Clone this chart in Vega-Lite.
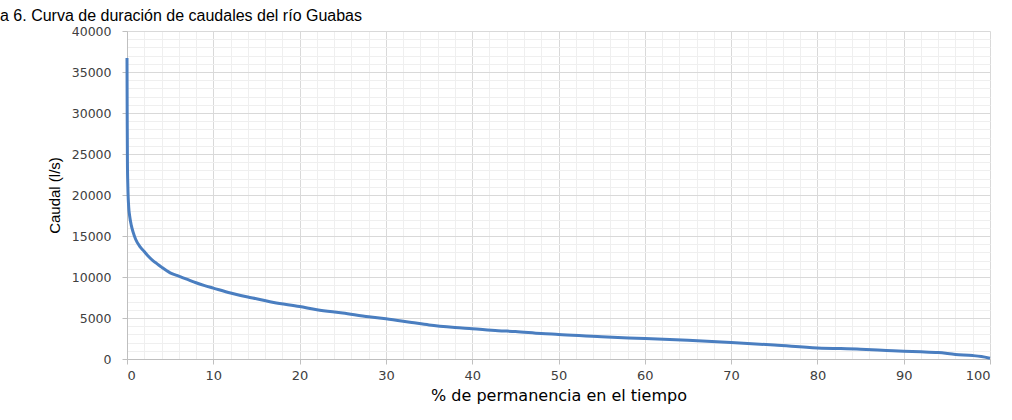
{
  "$schema": "https://vega.github.io/schema/vega-lite/v6.json",
  "autosize": "none",
  "width": 863,
  "height": 328,
  "padding": {"left": 127, "top": 31, "right": 22, "bottom": 61},
  "background": "white",
  "title": {
    "text": "a 6. Curva de duración de caudales del río Guabas",
    "anchor": "start",
    "frame": "group",
    "dx": -127,
    "baseline": "alphabetic",
    "offset": -12,
    "font": "Liberation Sans",
    "fontSize": 16,
    "fontWeight": "normal",
    "color": "#000000"
  },
  "config": {
    "view": {"stroke": null},
    "axis": {"labelColor": "#404040", "titleColor": "#000000", "titleFontWeight": "normal"}
  },
  "data": {
    "values": [
      {"p": 0, "q": 36700},
      {"p": 0.02, "q": 30000},
      {"p": 0.05, "q": 24000},
      {"p": 0.1, "q": 21000},
      {"p": 0.2, "q": 18500},
      {"p": 0.3, "q": 17500},
      {"p": 0.5, "q": 16300},
      {"p": 0.7, "q": 15500},
      {"p": 1, "q": 14600},
      {"p": 1.5, "q": 13700},
      {"p": 2, "q": 13100},
      {"p": 2.5, "q": 12500},
      {"p": 3, "q": 12000},
      {"p": 3.5, "q": 11600},
      {"p": 4, "q": 11200},
      {"p": 5, "q": 10500},
      {"p": 6, "q": 10100},
      {"p": 7, "q": 9700},
      {"p": 8, "q": 9300},
      {"p": 9, "q": 8950},
      {"p": 10, "q": 8650},
      {"p": 12, "q": 8050},
      {"p": 14, "q": 7550},
      {"p": 15, "q": 7350},
      {"p": 17, "q": 6900},
      {"p": 20, "q": 6400},
      {"p": 22, "q": 6000},
      {"p": 25, "q": 5600},
      {"p": 28, "q": 5150},
      {"p": 30, "q": 4900},
      {"p": 33, "q": 4450},
      {"p": 35, "q": 4150},
      {"p": 38, "q": 3850},
      {"p": 40, "q": 3700},
      {"p": 43, "q": 3450},
      {"p": 45, "q": 3350},
      {"p": 48, "q": 3100},
      {"p": 50, "q": 3000},
      {"p": 55, "q": 2700},
      {"p": 60, "q": 2500},
      {"p": 65, "q": 2280},
      {"p": 70, "q": 2000},
      {"p": 75, "q": 1700},
      {"p": 80, "q": 1350},
      {"p": 85, "q": 1200},
      {"p": 88, "q": 1050},
      {"p": 90, "q": 950},
      {"p": 92, "q": 880},
      {"p": 94, "q": 780},
      {"p": 96, "q": 560},
      {"p": 98, "q": 420},
      {"p": 99, "q": 300},
      {"p": 100, "q": 100}
    ]
  },
  "layer": [
    {
      "mark": {"type": "line", "opacity": 0},
      "encoding": {
        "x": {
          "field": "p", "type": "quantitative",
          "scale": {"domain": [0, 100], "nice": false},
          "axis": {
            "orient": "bottom",
            "values": [2,4,6,8,12,14,16,18,22,24,26,28,32,34,36,38,42,44,46,48,52,54,56,58,62,64,66,68,72,74,76,78,82,84,86,88,92,94,96,98],
            "grid": true, "gridColor": "#efefef", "gridWidth": 1,
            "labels": false, "ticks": false, "domain": false, "title": null
          }
        },
        "y": {
          "field": "q", "type": "quantitative",
          "scale": {"domain": [0, 40000], "nice": false},
          "axis": {
            "orient": "left",
            "values": [1000,2000,3000,4000,6000,7000,8000,9000,11000,12000,13000,14000,16000,17000,18000,19000,21000,22000,23000,24000,26000,27000,28000,29000,31000,32000,33000,34000,36000,37000,38000,39000],
            "grid": true, "gridColor": "#efefef", "gridWidth": 1,
            "labels": false, "ticks": false, "domain": false, "title": null
          }
        }
      }
    },
    {
      "mark": {"type": "line", "color": "#4a7ec0", "strokeWidth": 3, "interpolate": "monotone"},
      "encoding": {
        "x": {
          "field": "p", "type": "quantitative",
          "scale": {"domain": [0, 100], "nice": false},
          "axis": {
            "orient": "bottom",
            "values": [0,10,20,30,40,50,60,70,80,90,100],
            "format": "d",
            "grid": true, "gridColor": "#d9d9d9",
            "domain": true, "domainColor": "#bfbfbf",
            "ticks": true, "tickColor": "#bfbfbf", "tickSize": 5,
            "labelFont": "DejaVu Sans",
            "labelFontSize": 13, "labelPadding": 5,
            "title": "% de permanencia en el tiempo",
            "titleFont": "DejaVu Sans",
            "titleFontSize": 16, "titlePadding": 5
          }
        },
        "y": {
          "field": "q", "type": "quantitative",
          "scale": {"domain": [0, 40000], "nice": false},
          "axis": {
            "orient": "left",
            "values": [0,5000,10000,15000,20000,25000,30000,35000,40000],
            "format": "d",
            "grid": true, "gridColor": "#d9d9d9",
            "domain": true, "domainColor": "#bfbfbf",
            "ticks": true, "tickColor": "#bfbfbf", "tickSize": 5,
            "labelFont": "DejaVu Sans", "labelFontSize": 12.5, "labelPadding": 11,
            "title": "Caudal (l/s)",
            "titleFont": "Liberation Sans",
            "titleFontSize": 15, "titlePadding": 9
          }
        }
      }
    }
  ],
  "resolve": {"axis": {"x": "independent", "y": "independent"}}
}
